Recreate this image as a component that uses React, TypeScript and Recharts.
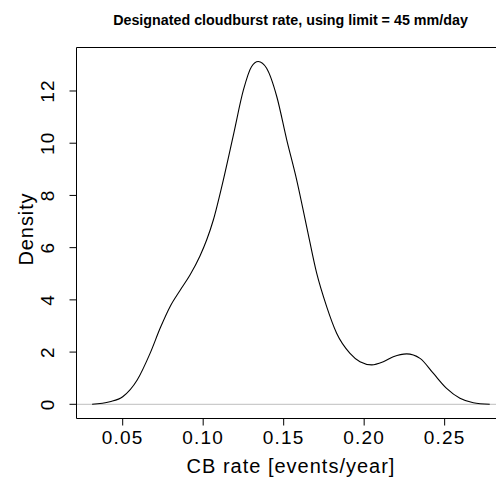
import { LineChart, Line, XAxis, YAxis, ReferenceLine } from 'recharts'

// CB rate (events/year) and kernel density
const rateValues = [
  0.031, 0.042, 0.05, 0.059, 0.067, 0.0735, 0.0794, 0.0856, 0.0918, 0.098, 0.1022,
  0.1063, 0.1125, 0.119, 0.125, 0.13, 0.1342, 0.1394, 0.1457, 0.1519, 0.1581, 0.1643,
  0.1705, 0.1767, 0.1829, 0.1912, 0.1974, 0.2047, 0.2119, 0.2181, 0.2264, 0.2347,
  0.2429, 0.2512, 0.2595, 0.2678, 0.278,
]
const densityValues = [
  0, 0.1, 0.29, 0.93, 1.95, 2.95, 3.74, 4.36, 4.95, 5.68, 6.3,
  7.06, 8.59, 10.38, 12.04, 12.93, 13.13, 12.87, 11.79, 10.13, 8.59, 6.8,
  5.02, 3.74, 2.72, 1.95, 1.63, 1.51, 1.63, 1.82, 1.93, 1.76,
  1.19, 0.61, 0.23, 0.06, 0,
]
const xTicks = [0.05, 0.1, 0.15, 0.2, 0.25]
const yTicks = [0, 2, 4, 6, 8, 10, 12]

const data = rateValues.map((x, i) => ({ x, density: densityValues[i] }))

const font = '"Liberation Sans", Arial, Helvetica, sans-serif'

const XTick = ({ x, payload }: any) => (
  <text x={x} y={444} textAnchor="middle" fontFamily={font} fontSize={19} letterSpacing={1.2} fill="#000">
    {payload.value.toFixed(2)}
  </text>
)

const YTick = ({ y, payload }: any) => (
  <text
    x={54}
    y={y}
    transform={`rotate(-90 54 ${y})`}
    textAnchor="middle"
    fontFamily={font}
    fontSize={19}
    letterSpacing={1.2}
    fill="#000"
  >
    {payload.value}
  </text>
)

export default function App() {
  return (
    <div style={{ position: 'absolute', left: 0, top: 0, width: 496, height: 481, background: '#fff' }}>
      <LineChart width={496} height={481} data={data} margin={{ top: 47.5, right: 0, bottom: 0, left: 0 }}>
        <XAxis
          dataKey="x"
          type="number"
          domain={[0.0213, 0.2819]}
          allowDataOverflow
          ticks={xTicks}
          tickSize={7}
          height={62.5}
          axisLine={{ stroke: '#000' }}
          tickLine={{ stroke: '#000' }}
          tick={<XTick />}
        />
        <YAxis
          type="number"
          domain={[-0.544, 13.666]}
          allowDataOverflow
          ticks={yTicks}
          tickSize={7}
          width={76.5}
          axisLine={{ stroke: '#000' }}
          tickLine={{ stroke: '#000' }}
          tick={<YTick />}
        />
        <ReferenceLine y={13.666} stroke="#000" />
        <ReferenceLine y={0} stroke="#bebebe" />
        <Line
          type="monotone"
          dataKey="density"
          stroke="#000"
          strokeWidth={1.1}
          dot={false}
          isAnimationActive={false}
        />
      </LineChart>
      <svg width={496} height={481} style={{ position: 'absolute', left: 0, top: 0, pointerEvents: 'none' }}>
        <text x={290.5} y={25} textAnchor="middle" fontFamily={font} fontSize={14.3} fontWeight="bold" fill="#000">
          Designated cloudburst rate, using limit = 45 mm/day
        </text>
        <text x={291} y={472.5} textAnchor="middle" fontFamily={font} fontSize={20} letterSpacing={1} fill="#000">
          CB rate [events/year]
        </text>
        <text
          x={33}
          y={229}
          transform="rotate(-90 33 229)"
          textAnchor="middle"
          fontFamily={font}
          fontSize={20}
          letterSpacing={0.9}
          fill="#000"
        >
          Density
        </text>
      </svg>
    </div>
  )
}
